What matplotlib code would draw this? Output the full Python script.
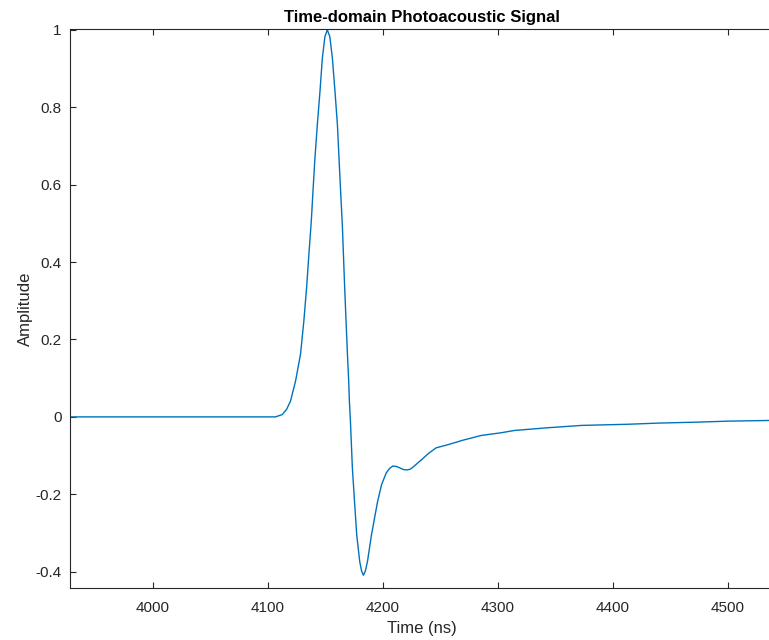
import matplotlib
matplotlib.use("Agg")
import matplotlib.pyplot as plt

# signal (time in ns, normalised amplitude)
time_ns = [3928, 3980, 4030, 4080, 4100, 4106.7, 4112.6, 4116.5, 4119.8, 4124.2,
           4128.5, 4131.4, 4133.8, 4135.8, 4137.9, 4139.3, 4141.0, 4143.1, 4145.4,
           4147.5, 4149.7, 4151.8, 4154.0, 4156.2, 4158.5, 4160.6, 4162.0, 4163.4,
           4164.9, 4165.8, 4166.9, 4168.1, 4169.3, 4170.4, 4171.0, 4171.9, 4173.6,
           4175.5, 4177.4, 4180.0, 4181.6, 4183.2, 4184.9, 4186.7, 4190.2, 4195.5,
           4199.0, 4203.0, 4206.0, 4208.8, 4212.0, 4215.0, 4218.0, 4221.3, 4224.0,
           4227.0, 4233.2, 4240.0, 4246.4, 4256.5, 4270.0, 4285.6, 4303.0, 4314.7,
           4343.8, 4372.9, 4413.6, 4440.0, 4471.8, 4500.0, 4540.0]
amplitude = [0, 0, 0, 0, 0, 0.0, 0.006, 0.02, 0.041, 0.093,
             0.162, 0.248, 0.334, 0.421, 0.507, 0.581, 0.667, 0.754, 0.84,
             0.927, 0.982, 1.0, 0.982, 0.927, 0.84, 0.754, 0.667, 0.581,
             0.494, 0.421, 0.334, 0.248, 0.162, 0.093, 0.041, -0.011, -0.132,
             -0.22, -0.305, -0.374, -0.398, -0.409, -0.398, -0.374, -0.305, -0.219,
             -0.175, -0.145, -0.133, -0.127, -0.128, -0.132, -0.136, -0.137, -0.135,
             -0.128, -0.112, -0.094, -0.080, -0.072, -0.060, -0.048, -0.041, -0.035,
             -0.028, -0.022, -0.019, -0.016, -0.0137, -0.011, -0.009]

xticks = [4000, 4100, 4200, 4300, 4400, 4500]
yticks = [-0.4, -0.2, 0, 0.2, 0.4, 0.6, 0.8, 1]
ytick_labels = ['-0.4', '-0.2', '0', '0.2', '0.4', '0.6', '0.8', '1']

plt.rcParams['font.family'] = ['Liberation Sans', 'DejaVu Sans']
axis_color = '#262626'

fig = plt.figure(figsize=(7.69, 6.4), dpi=100)
ax = fig.add_axes([70 / 769, 52 / 640, 0.915, 559 / 640])

ax.plot(time_ns, amplitude, color='#0072BD', linewidth=1.0)

ax.set_xlim(3928, 4540)
ax.set_ylim(-0.442, 1.002)
ax.set_xticks(xticks)
ax.set_xticklabels([str(t) for t in xticks])
ax.set_yticks(yticks)
ax.set_yticklabels(ytick_labels)

for side in ax.spines.values():
    side.set_color(axis_color)
    side.set_linewidth(0.8)
ax.spines['right'].set_visible(False)  # cropped off in the original
ax.tick_params(direction='in', top=True, right=False, length=4.5, width=0.8,
               color=axis_color, labelcolor=axis_color, labelsize=11)
ax.tick_params(axis='x', pad=9)
ax.tick_params(axis='y', pad=6)

ax.set_xlabel('Time (ns)', fontsize=12, color=axis_color, labelpad=5)
ax.set_ylabel('Amplitude', fontsize=12, color=axis_color, labelpad=2)
ax.set_title('Time-domain Photoacoustic Signal', fontsize=12, fontweight='bold',
             color='black', pad=5)

fig.savefig('out.png', dpi=100)
